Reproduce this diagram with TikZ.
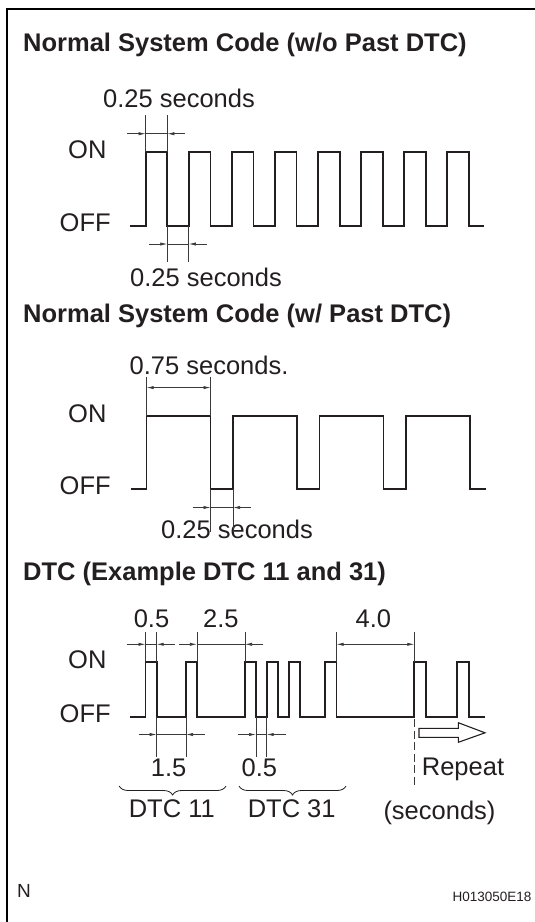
\documentclass[tikz,border=0pt]{standalone}
\usepackage{fontspec}
\setmainfont{Liberation Sans}
\usetikzlibrary{arrows.meta,decorations.pathreplacing}
\definecolor{ink}{HTML}{231F20}
\definecolor{dimink}{HTML}{3A3A3A}
\begin{document}
\begin{tikzpicture}[x=1pt,y=-1pt,
  wave/.style={line width=1.7pt, draw=ink, line join=miter},
  dimline/.style={line width=0.7pt, draw=dimink},
  dimarrow/.style={dimline, -{Latex[length=7pt,width=3.2pt]}},
  dimboth/.style={dimline, {Latex[length=7pt,width=3.2pt]}-{Latex[length=7pt,width=3.2pt]}},
  txt/.style={inner sep=0pt, text=ink, font=\fontsize{25.5}{30}\selectfont},
  lbl/.style={txt, anchor=base west},
  num/.style={txt, anchor=base},
  ttl/.style={inner sep=0pt, anchor=base west, text=ink, font=\fontsize{25.5}{30}\selectfont\bfseries},
  bracestyle/.style={line width=0.8pt, draw=ink, decorate, decoration={brace, amplitude=9pt, mirror}}
]
\useasboundingbox (0,0) rectangle (535,922);
\fill[white] (0,0) rectangle (535,922);
% frame
\draw[line width=2pt, draw=black] (7,922) -- (7,8.5) -- (535,8.5);

% ===== Section 1 =====
\node[ttl] (t1) at (23,51) {Normal System Code (w/o Past DTC)};
\node[lbl] (s1top) at (103,107) {0.25 seconds};
\node[lbl] (on1) at (68,158.5) {ON};
\node[lbl] (off1) at (59.5,231) {OFF};
\node[lbl] (s1bot) at (130,286) {0.25 seconds};
\draw[wave] (130,225.7) \foreach \k in {0,...,7} { -- ({145.7+43.09*\k},225.7) -- ++(0,-73.4) -- ++(21.6,0) -- ++(0,73.4) } -- (484.3,225.7);
% top dimension
\draw[dimline] (145.7,115) -- (145.7,152.3) (167.3,115) -- (167.3,152.3);
\draw[dimarrow] (127,133.7) -- (145.7,133.7);
\draw[dimarrow] (185,133.7) -- (167.3,133.7);
\draw[dimline] (145.7,133.7) -- (167.3,133.7);
% bottom dimension
\draw[dimline] (167.3,225.7) -- (167.3,262.3) (188.8,225.7) -- (188.8,262.3);
\draw[dimarrow] (149,244) -- (167.3,244);
\draw[dimarrow] (207,244) -- (188.8,244);
\draw[dimline] (167.3,244) -- (188.8,244);

% ===== Section 2 =====
\node[ttl] (t2) at (23,322.5) {Normal System Code (w/ Past DTC)};
\node[lbl] (s2top) at (129.5,374) {0.75 seconds.};
\node[lbl] (on2) at (68,422) {ON};
\node[lbl] (off2) at (59.5,494.5) {OFF};
\node[lbl] (s2bot) at (161,538) {0.25 seconds};
\draw[wave] (131,489.3) \foreach \k in {0,...,3} { -- ({146.6+86.4*\k},489.3) -- ++(0,-73.3) -- ++(64,0) -- ++(0,73.3) } -- (485.6,489.3);
% top dimension (inside)
\draw[dimline] (146.6,376.5) -- (146.6,416) (210.6,376.5) -- (210.6,416);
\draw[dimboth] (146.6,387.6) -- (210.6,387.6);
% bottom dimension
\draw[dimline] (210.6,489.3) -- (210.6,532) (233,489.3) -- (233,532);
\draw[dimarrow] (192.5,507.5) -- (210.6,507.5);
\draw[dimarrow] (251,507.5) -- (233,507.5);
\draw[dimline] (210.6,507.5) -- (233,507.5);

% ===== Section 3 =====
\node[ttl] (t3) at (23,580) {DTC (Example DTC 11 and 31)};
\node[num] (n05) at (151.5,627) {0.5};
\node[num] (n25) at (220.8,627) {2.5};
\node[num] (n40) at (373.4,627) {4.0};
\node[lbl] (on3) at (68,668) {ON};
\node[lbl] (off3) at (59.5,722) {OFF};
\draw[wave] (130,717) \foreach \a/\b in {145.5/156.7, 186/196.9, 245/256, 266.7/278, 289/300, 325/336.5, 414.3/426, 457.3/469.3} { -- (\a,717) -- (\a,661.7) -- (\b,661.7) -- (\b,717) } -- (484.5,717);
% 0.5 top
\draw[dimline] (145.5,632.3) -- (145.5,661.7) (156.7,632.3) -- (156.7,661.7);
\draw[dimarrow] (126.7,644.3) -- (145.5,644.3);
\draw[dimarrow] (175,644.3) -- (156.7,644.3);
\draw[dimline] (145.5,644.3) -- (156.7,644.3);
% 2.5 top
\draw[dimline] (196.9,632.3) -- (196.9,661.7) (245,632.3) -- (245,661.7);
\draw[dimarrow] (179.3,644.3) -- (196.9,644.3);
\draw[dimarrow] (263.3,644.3) -- (245,644.3);
\draw[dimline] (196.9,644.3) -- (245,644.3);
% 4.0 top
\draw[dimline] (336.5,632.3) -- (336.5,661.7) (414.3,632.3) -- (414.3,661.7);
\draw[dimboth] (336.5,644.3) -- (414.3,644.3);
% 1.5 bottom
\draw[dimline] (156.7,717) -- (156.7,757) (186,717) -- (186,757);
\draw[dimarrow] (138.7,734.5) -- (156.7,734.5);
\draw[dimarrow] (204.8,734.5) -- (186,734.5);
\draw[dimline] (156.7,734.5) -- (186,734.5);
% 0.5 bottom
\draw[dimline] (256,717) -- (256,757) (266.7,717) -- (266.7,757);
\draw[dimarrow] (238,734.5) -- (256,734.5);
\draw[dimarrow] (286,734.5) -- (266.7,734.5);
\draw[dimline] (256,734.5) -- (266.7,734.5);
\node[num] (n15b) at (168.6,776) {1.5};
\node[num] (n05b) at (259.3,776) {0.5};
% braces
\draw[bracestyle] (119.2,786) -- (226,786);
\draw[bracestyle] (239,786) -- (346,786);
\node[num] (dtc11) at (171.8,817) {DTC 11};
\node[num] (dtc31) at (291.7,817) {DTC 31};
% repeat
\draw[dimline, dash pattern=on 8pt off 3.5pt] (414.3,719) -- (414.3,785);
\draw[line width=1.1pt, draw=ink, line join=miter] (419,728.3) -- (458.3,728.3) -- (458.3,722.7) -- (485,732.8) -- (458.3,742.3) -- (458.3,737.3) -- (419,737.3) -- cycle;
\node[lbl] (rep) at (421.7,775) {Repeat};
\node[lbl] (secs) at (383.3,819) {(seconds)};

% footer
\node[inner sep=0pt, anchor=base west, text=ink, font=\fontsize{19}{22}\selectfont] (nlab) at (17,897) {N};
\node[inner sep=0pt, anchor=base east, text=ink, font=\fontsize{13.5}{15}\selectfont] (code) at (531.7,901) {H013050E18};
\end{tikzpicture}
\end{document}
